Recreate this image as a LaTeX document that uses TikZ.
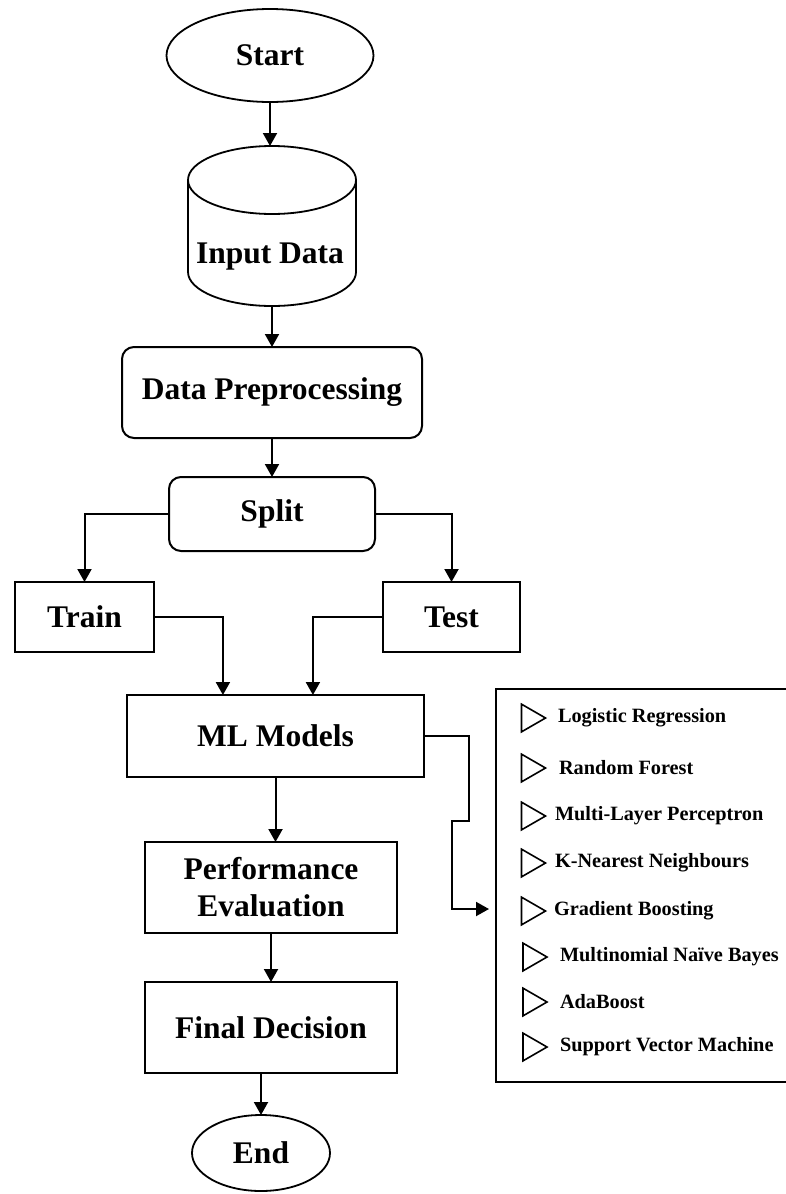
\documentclass[tikz,border=0pt]{standalone}
\usepackage{fontspec}
\setmainfont{Liberation Serif}
\usetikzlibrary{shapes.geometric,arrows.meta,calc}
\begin{document}
\begin{tikzpicture}[x=1pt,y=-1pt,
  every node/.style={inner sep=0pt,outer sep=0pt},
  lbl/.style={font=\bfseries\fontsize{31.5}{37}\selectfont,align=center},
  itm/.style={font=\bfseries\fontsize{20.3}{24}\selectfont,anchor=west},
  box/.style={draw,line width=2pt,lbl},
  rbox/.style={box,rounded corners=12pt},
  oval/.style={draw,ellipse,line width=1.8pt,lbl},
  conn/.style={line width=2pt,-{Triangle[width=14pt,length=13pt]}},
  tri/.style={draw,line width=1.6pt,isosceles triangle,isosceles triangle apex angle=60,minimum height=24pt,minimum width=23pt,inner sep=0pt,shape border rotate=0}]
\useasboundingbox (0,0) rectangle (785,1194);
\fill[white] (0,0) rectangle (785,1194);

% Start
\node[oval,minimum width=207pt,minimum height=93pt] (start) at (270,55.5) {Start};

% Input Data cylinder
\node[minimum width=168pt,minimum height=160pt] (inp) at (272,226) {};
\draw[line width=1.8pt] (188,180) arc[start angle=180,end angle=360,x radius=84,y radius=34]
  arc[start angle=0,end angle=180,x radius=84,y radius=34] -- (188,272)
  arc[start angle=180,end angle=0,x radius=84,y radius=34] -- (356,180);
\node[lbl] (inplabel) at (270,257) {Input Data};

% Data preprocessing and split
\node[rbox,minimum width=300pt,minimum height=91pt] (dp) at (272,392.5) {Data Preprocessing};
\node[rbox,minimum width=206pt,minimum height=74pt] (split) at (272,514) {Split};

% Train / Test
\node[box,minimum width=139pt,minimum height=70pt] (train) at (84.5,617) {Train};
\node[box,minimum width=137pt,minimum height=70pt] (test) at (451.5,617) {Test};

% ML models
\node[box,minimum width=297pt,minimum height=82pt] (ml) at (275.5,736) {ML Models};
\node[box,minimum width=252pt,minimum height=91pt] (pe) at (271,887.5) {Performance\\Evaluation};
\node[box,minimum width=252pt,minimum height=91pt] (fd) at (271,1027.5) {Final Decision};
\node[oval,minimum width=138pt,minimum height=76pt] (end) at (261,1153) {End};

% Model list
\node[draw,line width=1.8pt,minimum width=294pt,minimum height=393pt] (models) at (643,885.5) {};
\node[tri] (t1) at (529.5,718) {};
\node[tri] (t2) at (529.5,768) {};
\node[tri] (t3) at (529.5,816) {};
\node[tri] (t4) at (529.5,863) {};
\node[tri] (t5) at (529.5,911) {};
\node[tri] (t6) at (531,957) {};
\node[tri] (t7) at (531,1002) {};
\node[tri] (t8) at (531,1047) {};
\node[itm] (m1) at (558,718) {Logistic Regression};
\node[itm] (m2) at (559,768) {Random Forest};
\node[itm] (m3) at (555,816) {Multi-Layer Perceptron};
\node[itm] (m4) at (555,863) {K-Nearest Neighbours};
\node[itm] (m5) at (554,911) {Gradient Boosting};
\node[itm] (m6) at (560,957) {Multinomial Naïve Bayes};
\node[itm] (m7) at (560,1002) {AdaBoost};
\node[itm] (m8) at (560,1047) {Support Vector Machine};

% Connectors
\draw[conn] (start.south) -- (start.south |- inp.north);
\draw[conn] (inp.south) -- (inp.south |- dp.north);
\draw[conn] (dp.south) -- (split.north);
\draw[conn] (split.west) -| (train.north);
\draw[conn] (split.east) -| (test.north);
\draw[conn] (train.east) -| ($(ml.north west)!0.323!(ml.north east)$);
\draw[conn] (test.west) -| ($(ml.north west)!0.626!(ml.north east)$);
\draw[conn] (ml.south) -- (ml.south |- pe.north);
\draw[conn] (pe.south) -- (fd.north);
\draw[conn] (fd.south -| end.north) -- (end.north);
\coordinate (b1) at (469,821);
\coordinate (b2) at (452,821);
\coordinate (tip) at (489,909);
\draw[conn] (ml.east) -| (b1) -- (b2) |- (tip);
\end{tikzpicture}
\end{document}
